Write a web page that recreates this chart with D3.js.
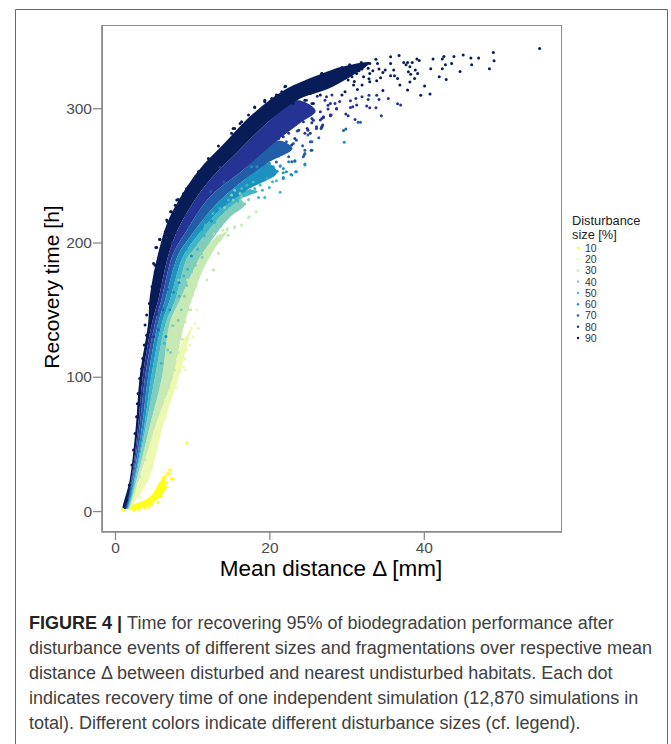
<!DOCTYPE html>
<html>
<head>
<meta charset="utf-8">
<style>
    body { margin: 0; background: white; }
    svg { display: block; font-family: "Liberation Sans", Arial, sans-serif; }
    .frame { fill: none; stroke: #666; stroke-width: 1; }
    .panel { fill: none; stroke: #8a8a8a; stroke-width: 1; }
    .axis path { display: none; }
    .axis line { stroke: #8a8a8a; stroke-width: 1.3; }
    .axis text { fill: #4d4d4d; font-size: 15.5px; }
    .axis-title { fill: black; font-size: 22.5px; }
    .legend-title { fill: #222; font-size: 12.8px; }
    .legend-label { fill: #333; font-size: 10.5px; }
    .caption { fill: #404040; font-size: 18px; }
    .caption .lead { fill: #222; font-weight: bold; }
</style>
</head>
<body>
<script src="https://cdn.jsdelivr.net/npm/d3@7"></script>
<script>
var sizes = [10, 20, 30, 40, 50, 60, 70, 80, 90];
var sizeColors = ["#ffff1a", "#edf8b1", "#c7e9b4", "#7fcdbb", "#41b6c4", "#1d91c0", "#225ea8", "#253494", "#081d58"];
var xTicks = [0, 20, 40];
var yTicks = [0, 100, 200, 300];

// edges of the solid part of each cloud, too dense to pick single dots there
var edgeTop = [[1.0,1.5],[1.9,23],[2.7,63],[3.2,100],[4.3,140],[4.5,159],[5.6,192],[7.1,219],[10.6,252],[14.5,276],[17.9,296],[21.8,313],[26.9,326],[29.5,331]];
var edge90 = [[1.2,1.5],[2.1,23],[3.0,63],[3.6,100],[4.8,140],[5.6,157],[7.1,194],[8.8,217],[11.9,244],[15.8,267],[19.7,289],[23.6,306],[28.2,316]];
var edge80 = [[1.3,1.5],[2.2,23],[3.2,63],[3.9,100],[5.2,140],[6.0,157],[7.5,191],[9.3,209],[12.3,234],[16.6,254],[21,276],[24,289]];
var edge70 = [[1.4,1.5],[2.3,23],[3.5,63],[4.3,100],[5.6,140],[6.5,157],[8.2,191],[9.7,204],[13.2,229],[16.6,246],[19.7,259],[23,274]];
var edge60 = [[1.5,1.5],[2.5,23],[3.8,63],[4.7,100],[6.1,140],[7.1,157],[8.7,188],[10,200],[13.6,224],[17.1,239],[20.1,249]];
var edge50 = [[1.6,1.5],[2.6,23],[4.0,63],[5.2,100],[6.6,140],[7.8,157],[9.3,188],[10.1,194],[13.6,219],[16.2,232]];
var edge40 = [[1.7,1.5],[2.8,23],[4.5,63],[6.1,100],[7.1,140],[8.4,157],[10.8,187],[12.3,200],[14.9,219]];
var edge30 = [[1.8,1.5],[3.1,23],[5.2,63],[7.5,100],[8.8,135],[10.4,165],[11.7,183],[13.1,197],[15.8,211]];
var upper20 = [[1.4,1.5],[3.2,23],[4.9,63],[6.5,86],[7.8,110],[8.8,127]];
var lower20 = [[1.7,1.5],[4.3,23],[6.2,63],[7.5,86],[8.8,111],[9.7,131]];
var upper10 = [[1.1,1.5],[2.3,4.5],[4.5,10.4],[5.8,21.6],[6.7,28.3]];
var lower10 = [[3.6,2.2],[5.4,8.2],[6.5,15.6],[6.5,23]];
var solidUpTo = [8, 10, 13.2, 16.3, 17.2, 20, 21, 24, 30];
var solidTips = [[7.1,31],[9.9,135],[14.5,208],[16.8,228],[18.5,238],[21,252],[23,270],[26,298],[33,334]];

// single dots that stand clear of the solid part
var pts10 = [[9.3,50.6],[7.3,23.8],[7.55,23.8],[7.1,31],[6.8,28],[7,27.6],[4.75,4.5],[3.9,2.5],[1,1.3],[1.2,0.5],[2.4,1],[3.1,1.2],[4.4,3],[5.6,6.6],[6,11],[6.6,18],[6.7,21],[5.2,13],[5.6,18],[6.2,25]];
var pts20 = [[10.6,149.7],[10.8,136],[10.4,139.7],[10.1,129.8],[9.5,128.6],[9.7,123.6],[9.3,119.9],[9.1,113.7],[8.9,107.5],[9.1,105],[9.9,136],[9.7,133.5],[8.4,103.8],[7.9,92],[6.9,81],[6.5,70],[5.2,45],[4.7,31],[8.1,113],[9.2,125],[6.5,82.7],[7.1,87.6],[7.8,95],[8.4,105],[6,69],[5.6,57.8],[5,46.7],[4.4,33],[3.9,21.9],[3.2,10.7]];
var pts30 = [[18.3,222.9],[17.3,218.4],[15.5,211],[14.5,209.3],[13.6,203],[12.7,179.5],[12.1,189.4],[11.4,186.9],[10.6,181.9],[12.7,206.8],[14.7,205.5],[12.5,195.6],[10.8,177],[10.5,167.6],[9.6,150],[9.1,141],[8.2,118],[16.4,213],[11.9,172],[13.4,192],[12.8,179.5],[15.5,211.7],[14.6,205.5],[14.6,210.5],[13.6,205.5],[14,209.2],[13.2,204.3],[12.5,194.3],[11.9,188.1],[10.8,182],[10.4,174.5],[13.6,201.8],[12.7,198.8],[12.1,195.6],[17.4,219.2],[8.2,122.4],[7.8,116],[7.3,107.5],[6.7,98.8],[6.3,91.3],[5.6,80],[5.2,69],[4.5,52.9],[3.9,38],[3.2,25.6],[9.4,172],[10.1,161],[9.8,150],[9,146],[8.7,128],[11.2,192],[7.7,105],[7,92]];
var pts40 = [[16.8,228.6],[16,226.6],[15.5,224],[14.9,221.7],[16.4,234],[15.3,231.6],[13.2,214],[12.6,207],[11.4,196],[10.4,183],[9.3,168],[14.2,226],[17.3,232],[8.2,142],[7.2,118],[15.5,227.8],[16.2,236.5],[14.9,225.4],[14.4,222.9],[13.6,217.9],[13.2,214.2],[12.5,210.5],[11.7,199.3],[11.2,191.9],[10.1,186.9],[15.1,235.3],[15.5,239],[16.2,231.6],[8.2,172],[9,160],[9.9,178],[10.9,199],[12.1,207],[8.6,150],[7.5,138],[6.8,120],[11.3,189],[13.6,212]];
var pts50 = [[21.4,237.5],[20.9,246],[20.4,245.2],[19.6,247.7],[19.4,233.6],[18.6,233.6],[18.8,242.8],[18.1,240.3],[17.5,239],[16.8,236],[17.9,245],[15.9,231],[19.1,239],[20,241],[17.1,242.7],[16.4,240.3],[14.7,231.6],[13.6,225.4],[12.7,221.6],[11.7,213],[7.4,158],[8.9,175],[9.4,180],[10.7,195],[11.6,205],[12.9,215],[7.9,168],[6.4,125],[6,110],[8.3,160]];
var pts60 = [[24.6,258.4],[23.4,252.7],[22.8,250.7],[21.8,247.7],[21.8,251.9],[21.4,256.9],[22.5,260.1],[23.3,260.6],[20.5,256.4],[20.2,250.2],[19.4,253.9],[29.7,274.6],[18.6,246],[19,251],[21,253],[20,259],[20.5,255.2],[21.4,257],[21.8,255.2],[23.5,252.7],[22.2,252.7],[21.8,248.5],[20.3,251],[19.4,247.8],[18.4,256.4],[17.7,256.4],[24.6,257.7],[22.9,250.2],[19.2,255.2],[7.9,180],[8.3,170],[7.6,163],[9.2,195],[9.9,190],[10.4,205],[11.2,210],[12.5,216],[7.1,150],[6.6,130]];
var pts70 = [[25.5,275],[25,280],[23.5,276.2],[23.1,273.8],[22,268.8],[22.2,275],[25.5,268.8],[24.4,263.8],[24.6,266.3],[31.5,289.5],[31.8,289.5],[29.9,284.5],[29.6,283.5],[20.6,265],[21.3,271],[23.6,283],[24.3,272],[26.4,278],[20.9,260],[25.3,275],[24.6,268.8],[25.4,268.8],[24.5,265.1],[21.4,268.8],[22,268.8],[20.3,262.6],[21.2,264.4],[22.5,263.9],[23.3,260.9],[22.9,260.2],[6.8,165],[7.2,178],[7.9,192],[8.6,200],[9.6,212],[10.7,221],[12.4,238],[14.1,245],[5.6,135],[6.2,150]];
var pts80 = [[35.4,307.3],[36.6,303.4],[37,302.4],[34.5,294.4],[33.9,309.6],[32.9,309.6],[32.8,306.6],[34.2,306.6],[32,308.6],[31.2,307.3],[30.5,305.6],[31.3,302.4],[30.8,301.1],[30.5,300.6],[32.6,301.6],[33,300.4],[33.8,300.4],[29.9,295.7],[30.2,294.4],[27.9,294.4],[28.5,303.6],[28.7,299.4],[27.6,299.4],[31.1,291.7],[27,293.2],[26.9,287.5],[26.7,285],[27.9,303.5],[28.7,299.8],[28,294.9],[26.8,292.4],[25.7,291.1],[26.8,286.2],[26.1,285],[25,283.7],[24.4,289.9],[26.6,297.3],[25.5,303.5],[27.4,308.5],[24,298.6],[22.7,294.9],[25.2,297],[23.4,291],[29.1,305],[24.8,306],[26.2,309],[27.9,294.9],[27,293.7],[26.6,291.2],[25.5,292.4],[25.5,289.2],[26.1,286.2],[26.8,286.2],[24.9,285],[25.3,281.3],[24.6,281.3],[23.8,283.7],[23.1,290],[27.6,302.3],[27.2,306],[28.1,309.8],[24.2,296.1],[22.5,281.3],[23.3,277.5],[21.8,278.8],[22.9,272.6],[21.2,277.5],[20.5,283.7],[22,288.7],[6.2,168],[6.7,180],[7.4,200],[8.1,207],[9.2,220],[10.4,230],[12,243],[5,130],[5.4,147],[13.6,256],[15.2,262],[17,272],[18.4,280]];
var pts90 = [[55,344.5],[49,341.6],[49.1,335.4],[48.5,329.4],[47.1,337.4],[46.1,337.4],[46.2,332.4],[45.1,339.6],[44.7,327.4],[43.9,338.6],[43.6,333.4],[42.9,321.5],[42.6,338.6],[42.4,336.6],[42.8,332.4],[42.4,329.4],[42,323.5],[41.2,336.6],[40.9,329.4],[40.8,310.6],[40.1,316.5],[39.6,309.6],[39.1,336.6],[39.4,335.6],[38.9,328.4],[39.2,325.9],[38.8,322.2],[38.2,319.5],[37.9,313.5],[38.5,334.1],[37.9,334.1],[37.4,334.1],[37.7,332.4],[38.2,330.9],[38,327.2],[38.3,325.4],[36.8,339.3],[35.7,338.4],[35.7,333.4],[36.1,328.4],[35.7,324.2],[36.2,324.2],[36.6,322.2],[36.9,317.3],[35,328.4],[34.7,326.7],[34.4,322.7],[33.9,320.5],[34.7,313.3],[33.8,336.4],[34,333.4],[33,333.4],[34.2,329.2],[31.9,334.1],[31.3,332.1],[30.4,332.4],[32.8,329.7],[32,329.2],[33,325.9],[32.2,323.5],[31.3,325.9],[30.7,323.5],[30,328.4],[29.6,324.7],[28.7,327.2],[29.1,321],[28.3,326],[30.9,317.3],[32,317.3],[33,319.7],[29.8,312.3],[29.4,309.8],[5.8,202.5],[5.4,196.3],[6.7,216.7],[7.3,222.9],[8,231.6],[9.3,240.3],[10.4,249],[12.1,262.6],[13.4,271.8],[15.3,285],[16.2,288.7],[18.1,301],[19.4,304.8],[21,309.7],[22.1,316.4],[24.2,318.4],[26.8,325.9],[28.3,327.1],[28.9,328.4],[5,184.4],[4.8,167.1],[31.6,328],[31,320],[32.9,322],[30.2,321],[27.5,317],[28.4,320],[31.4,314],[33.4,328],[30.5,327.5],[29.4,330.4],[5.3,196.3],[5.8,202.3],[6.5,208],[6.8,215.4],[7.2,222.9],[7.8,227.8],[8.2,232],[8.9,236.5],[9.5,241.5],[10.8,252.7],[5.2,183],[5.2,178],[6.3,200.6],[7.1,213],[8.4,229],[9.9,242.7],[11.7,250],[5.8,191.9],[5.6,185.7],[7.6,219],[9.3,234],[10.6,244],[18.1,300.6],[17.3,294.9],[16.4,290],[15.5,285],[15.1,281.3],[19.4,306],[20.3,307.3],[22,316],[23.1,313.5],[24.2,318.5],[25.5,316],[26.8,325.9],[27.9,325.9],[28.7,324.7],[21.6,312.3],[20.9,309.8],[20.1,301],[21.4,306],[22.7,308.5],[24,311],[25.3,311],[26.3,317.2],[27.4,319.7],[28.5,318.5],[26.6,309.8],[17.5,288.7],[18.8,296.1],[20.1,296.1],[21.6,299.9],[23.1,303.6],[24.6,306],[25.7,303.6],[15.8,280],[16.6,283.7],[4.45,154.6],[4.1,146],[3.9,138.5],[4.1,131],[3.8,123.6],[3.6,113.7],[3.45,106],[3.2,98.8],[3,87.6],[2.9,80],[2.8,70.3],[2.6,57.8],[2.4,45.4],[2.2,34.3],[1.85,19.4],[1.5,8.2]];

var pointSets = [pts10, pts20, pts30, pts40, pts50, pts60, pts70, pts80, pts90];
var upperEdges = [upper10, upper20, edge40, edge50, edge60, edge70, edge80, edge90, edgeTop];
var lowerEdges = [lower10, lower20, edge30, edge40, edge50, edge60, edge70, edge80, edge90];

var caption = [
    "Time for recovering 95% of biodegradation performance after",
    "disturbance events of different sizes and fragmentations over respective mean",
    "distance \u0394 between disturbed and nearest undisturbed habitats. Each dot",
    "indicates recovery time of one independent simulation (12,870 simulations in",
    "total). Different colors indicate different disturbance sizes (cf. legend)."
];

(function() {
    var width = 671, height = 744;
    var left = 102, right = 562, top = 25, bottom = 532;

    var svg = d3.select("body").append("svg")
        .attr("width", width)
        .attr("height", height);

    svg.append("path")
        .attr("class", "frame")
        .attr("d", "M15.5," + height + "V9.5H667.5V" + height);

    var x = d3.scaleLinear().domain([-1.68, 57.9]).range([left, right]);
    var y = d3.scaleLinear().domain([-15.6, 362]).range([bottom, top]);

    var line = d3.line()
        .x(function(d) { return x(d[0]); })
        .y(function(d) { return y(d[1]); })
        .curve(d3.curveCatmullRomClosed.alpha(0.5));

    // solid parts first, light to dark, single dots over them
    sizes.forEach(function(s, i) {
        var inside = function(d) { return d[0] <= solidUpTo[i]; };
        var outline = upperEdges[i].filter(inside)
            .concat([solidTips[i]])
            .concat(lowerEdges[i].filter(inside).reverse());
        svg.append("path")
            .attr("d", line(outline))
            .attr("fill", sizeColors[i]);
    });

    sizes.forEach(function(s, i) {
        svg.append("g").selectAll("circle")
            .data(pointSets[i])
            .enter().append("circle")
            .attr("cx", function(d) { return x(d[0]); })
            .attr("cy", function(d) { return y(d[1]); })
            .attr("r", 1.5)
            .attr("fill", sizeColors[i]);
    });

    svg.append("rect")
        .attr("class", "panel")
        .attr("x", left + 0.5)
        .attr("y", top + 0.5)
        .attr("width", right - left - 1)
        .attr("height", bottom - top - 1);

    // left and bottom sides are a bit heavier in the original
    svg.append("path")
        .attr("d", "M" + left + "," + top + "V" + bottom + "H" + right)
        .attr("fill", "none")
        .attr("stroke", "#8a8a8a")
        .attr("stroke-width", 1.6);

    svg.append("g")
        .attr("class", "axis")
        .attr("transform", "translate(0," + bottom + ")")
        .call(d3.axisBottom(x).tickValues(xTicks).tickSize(8).tickPadding(2).tickFormat(d3.format("d")));

    svg.append("g")
        .attr("class", "axis")
        .attr("transform", "translate(" + left + ",0)")
        .call(d3.axisLeft(y).tickValues(yTicks).tickSize(9).tickPadding(1).tickFormat(d3.format("d")));

    svg.append("text")
        .attr("class", "axis-title")
        .attr("x", 331)
        .attr("y", 576)
        .attr("text-anchor", "middle")
        .text("Mean distance \u0394 [mm]");

    svg.append("text")
        .attr("class", "axis-title")
        .attr("transform", "translate(59,287) rotate(-90)")
        .attr("text-anchor", "middle")
        .style("font-size", "21px")
        .text("Recovery time [h]");

    svg.append("text").attr("class", "legend-title").attr("x", 572).attr("y", 225).text("Disturbance");
    svg.append("text").attr("class", "legend-title").attr("x", 572).attr("y", 239).text("size [%]");

    var legendY = d3.scalePoint().domain(sizes).range([248, 338]);
    var keys = svg.append("g").selectAll("g")
        .data(sizes)
        .enter().append("g")
        .attr("transform", function(d) { return "translate(0," + legendY(d) + ")"; });
    keys.append("circle")
        .attr("cx", 578)
        .attr("r", 1.2)
        .attr("fill", function(d, i) { return sizeColors[i]; });
    keys.append("text")
        .attr("class", "legend-label")
        .attr("x", 585)
        .attr("y", 3.8)
        .text(function(d) { return d; });

    var captionText = svg.append("text").attr("class", "caption");
    caption.forEach(function(row, i) {
        var t = captionText.append("tspan")
            .attr("x", 29)
            .attr("y", 629 + i * 25);
        if (i === 0) {
            t.append("tspan").attr("class", "lead").text("FIGURE 4 | ");
        }
        t.append("tspan").text(row);
    });
})();
</script>
</body>
</html>
